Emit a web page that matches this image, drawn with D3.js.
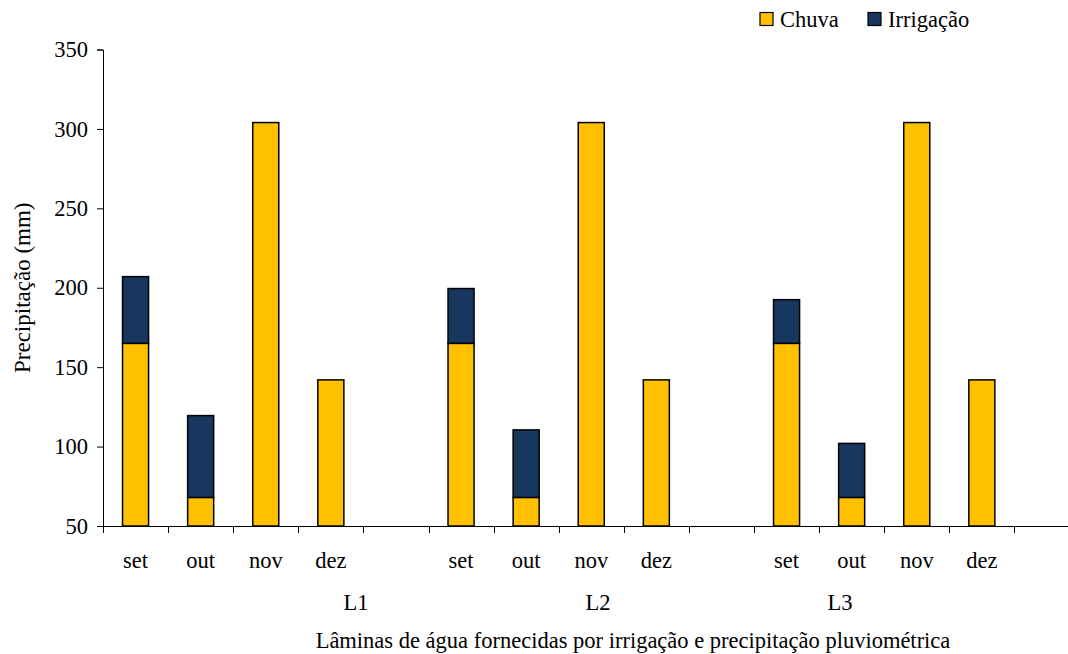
<!DOCTYPE html>
<html>
<head>
<meta charset="utf-8">
<script src="https://cdn.jsdelivr.net/npm/d3@7"></script>
<style>
  html, body { margin: 0; padding: 0; background: #fff; }
</style>
</head>
<body>
<svg id="chart" width="1068" height="654" font-family="Liberation Serif, Times New Roman, serif"></svg>
<script>
// Monthly rainfall (Chuva) and irrigation depth (Irrigação), in mm, per treatment
const groups = ["L1", "L2", "L3"];
const months = ["set", "out", "nov", "dez"];
const chuvaL1 = [165, 68, 304, 142];
const chuvaL2 = [165, 68, 304, 142];
const chuvaL3 = [165, 68, 304, 142];
const irrigacaoL1 = [42, 51.5, 0, 0];
const irrigacaoL2 = [34.5, 42.5, 0, 0];
const irrigacaoL3 = [27.5, 34, 0, 0];
const yTicks = [50, 100, 150, 200, 250, 300, 350];
const seriesNames = ["Chuva", "Irrigação"];

const chuva = [chuvaL1, chuvaL2, chuvaL3];
const irrigacao = [irrigacaoL1, irrigacaoL2, irrigacaoL3];
const colors = { "Chuva": "#FFC000", "Irrigação": "#17375E" };
const FONT = "Liberation Serif";
const FONT_SIZE = 22.5;

// Each group takes four month slots plus one empty spacer slot
const slots = [];
groups.forEach((g, gi) => {
  months.forEach((m, mi) => {
    slots.push({ key: g + "-" + m, group: g, month: m, chuva: chuva[gi][mi], irrigacao: irrigacao[gi][mi] });
  });
  slots.push({ key: g + "-gap", group: g, month: "", chuva: null, irrigacao: null });
});

const svg = d3.select("#chart");
const plotLeft = 103, plotBottom = 526, plotTop = 49.5;
const step = 65.1;

const x = d3.scaleBand()
  .domain(slots.map(d => d.key))
  .range([plotLeft, plotLeft + step * slots.length])
  .paddingInner(0.6)
  .paddingOuter(0.3);

const y = d3.scaleLinear().domain([50, 350]).range([plotBottom, plotTop]);

function label(sel) {
  return sel.attr("font-family", FONT).attr("font-size", FONT_SIZE).attr("fill", "#000");
}

// Y axis
const yAxis = svg.append("g")
  .attr("transform", `translate(${plotLeft},0)`)
  .call(d3.axisLeft(y).tickValues(yTicks).tickSize(6).tickPadding(9).tickFormat(d3.format("d")));
yAxis.attr("font-family", FONT).attr("font-size", FONT_SIZE);
yAxis.select(".domain").attr("stroke", "#000").attr("stroke-width", 1);
yAxis.selectAll(".tick line").attr("stroke", "#000");
yAxis.selectAll(".tick text").call(label);

// X axis baseline
svg.append("line")
  .attr("x1", plotLeft).attr("x2", 1068)
  .attr("y1", plotBottom + 0.5).attr("y2", plotBottom + 0.5)
  .attr("stroke", "#000").attr("stroke-width", 1);

// Tick marks at slot boundaries
const offset = (x.step() - x.bandwidth()) / 2;
const boundaries = slots.map(d => x(d.key) - offset);
boundaries.push(x(slots[slots.length - 1].key) + x.bandwidth() + offset);
svg.append("g").selectAll("line")
  .data(boundaries)
  .join("line")
  .attr("x1", d => Math.round(d) + 0.5).attr("x2", d => Math.round(d) + 0.5)
  .attr("y1", plotBottom).attr("y2", plotBottom + 7)
  .attr("stroke", "#000").attr("stroke-width", 1);

// Month labels
svg.append("g").selectAll("text")
  .data(slots.filter(d => d.month !== ""))
  .join("text")
  .call(label)
  .attr("x", d => x(d.key) + x.bandwidth() / 2)
  .attr("y", 568)
  .attr("text-anchor", "middle")
  .text(d => d.month);

// Group labels
const gx = d3.scalePoint().domain(groups).range([356, 840]);
svg.append("g").selectAll("text")
  .data(groups)
  .join("text")
  .call(label)
  .attr("x", d => gx(d))
  .attr("y", 610)
  .attr("text-anchor", "middle")
  .text(d => d);

// Stacked bars
const bars = svg.append("g");
const filled = slots.filter(d => d.chuva !== null);
bars.selectAll("rect.chuva")
  .data(filled)
  .join("rect")
  .attr("class", "chuva")
  .attr("x", d => x(d.key))
  .attr("width", x.bandwidth())
  .attr("y", d => y(d.chuva))
  .attr("height", d => y(50) - y(d.chuva))
  .attr("fill", colors["Chuva"])
  .attr("stroke", "#000").attr("stroke-width", 1.5);
bars.selectAll("rect.irr")
  .data(filled.filter(d => d.irrigacao > 0))
  .join("rect")
  .attr("class", "irr")
  .attr("x", d => x(d.key))
  .attr("width", x.bandwidth())
  .attr("y", d => y(d.chuva + d.irrigacao))
  .attr("height", d => y(d.chuva) - y(d.chuva + d.irrigacao))
  .attr("fill", colors["Irrigação"])
  .attr("stroke", "#000").attr("stroke-width", 1.5);

// Axis titles
svg.append("text")
  .call(label)
  .attr("font-size", 23)
  .attr("transform", `translate(30,${(plotTop + plotBottom) / 2}) rotate(-90)`)
  .attr("text-anchor", "middle")
  .text("Precipitação (mm)");
svg.append("text")
  .call(label)
  .attr("x", 633).attr("y", 648)
  .attr("text-anchor", "middle")
  .text("Lâminas de água fornecidas por irrigação e precipitação pluviométrica");

// Legend
const legendX = [760, 868];
const legend = svg.append("g").selectAll("g")
  .data(seriesNames)
  .join("g")
  .attr("transform", (d, i) => `translate(${legendX[i]},12.5)`);
legend.append("rect")
  .attr("width", 13).attr("height", 13)
  .attr("fill", d => colors[d])
  .attr("stroke", "#000").attr("stroke-width", 1.2);
legend.append("text")
  .call(label)
  .attr("x", 20).attr("y", 14)
  .text(d => d);
</script>
</body>
</html>
